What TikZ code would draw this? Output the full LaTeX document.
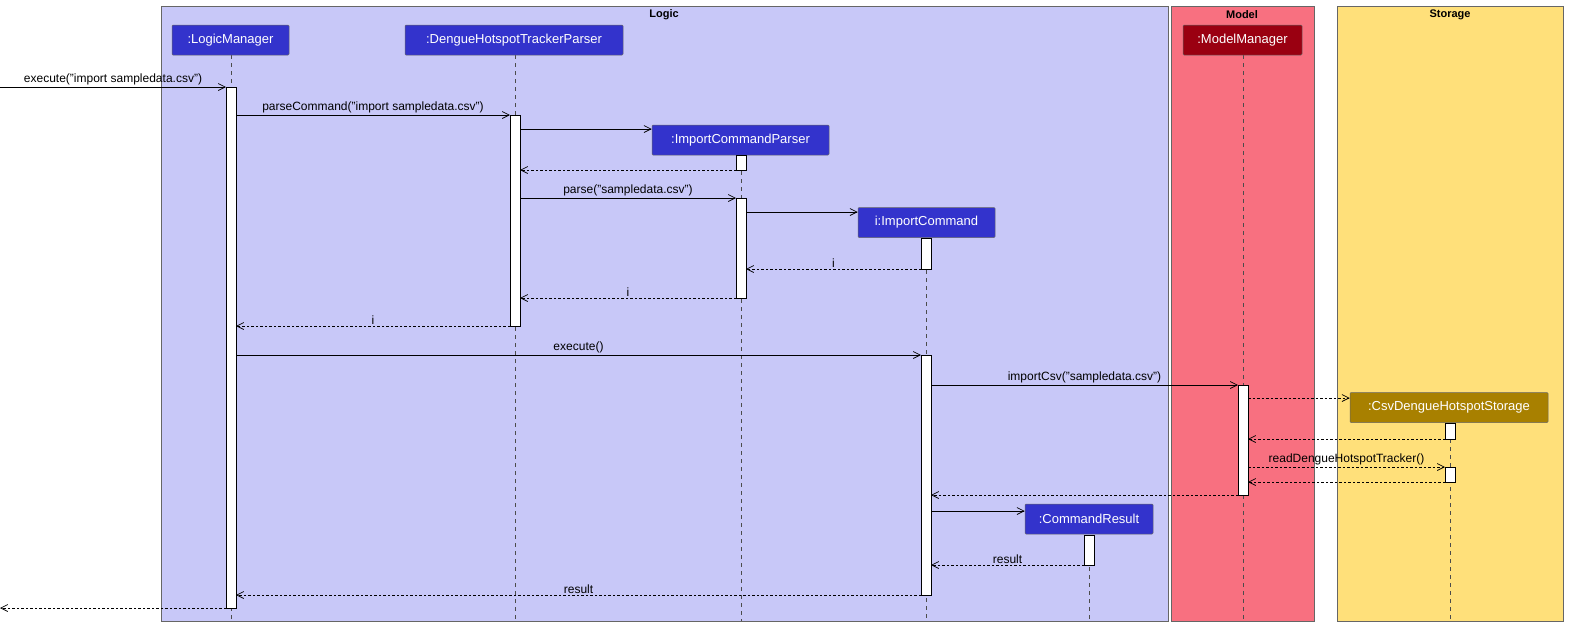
\documentclass[tikz,border=0pt]{standalone}
\usepackage{fontspec}
\setmainfont{Liberation Sans}
\usetikzlibrary{arrows.meta}
\definecolor{logicbg}{HTML}{C8C8F8}
\definecolor{modelbg}{HTML}{F87080}
\definecolor{storebg}{HTML}{FFE07A}
\definecolor{pblue}{HTML}{3333CC}
\definecolor{pred}{HTML}{9A0011}
\definecolor{pgold}{HTML}{A88000}
\begin{document}
\begin{tikzpicture}[x=1pt,y=-1pt,
  frame/.style={draw=gray!80!black,line width=0.6pt},
  ftitle/.style={font=\fontsize{11}{12}\selectfont\bfseries},
  part/.style={draw=black!60,line width=0.5pt,text=white,font=\fontsize{13}{14}\selectfont,inner sep=0pt,minimum height=30pt,rounded corners=1pt},
  life/.style={dash pattern=on 4pt off 4pt,line width=0.5pt,draw=black!70},
  act/.style={draw=black,fill=white,line width=0.6pt},
  msg/.style={-{Straight Barb[length=7pt,width=7pt]},line width=0.7pt},
  ret/.style={msg,dash pattern=on 2.5pt off 2pt},
  lab/.style={font=\fontsize{12}{13}\selectfont,above=0pt,inner sep=1.5pt}]
\useasboundingbox (0,0) rectangle (1590,641);
\fill[white] (0,0) rectangle (1590,641);
% frames
\draw[frame,fill=logicbg] (161,6) rectangle (1168,621);
\draw[frame,fill=modelbg] (1171,6) rectangle (1314,621);
\draw[frame,fill=storebg] (1337,6) rectangle (1563,621);
\node[ftitle] (tl) at (664,15) {Logic};
\node[ftitle] (tm) at (1242,15) {Model};
\node[ftitle] (ts) at (1450,15) {Storage};
% lifelines
\foreach \x/\a/\b in {231/55/621,515/55/621,741/155/621,926/238/621,1089/535/621,1243/55/621,1450/423/621}
  \draw[life] (\x,\a) -- (\x,\b);
% participants
\node[part,fill=pblue,minimum width=117pt] (lm) at (230.5,40) {:LogicManager};
\node[part,fill=pblue,minimum width=218pt] (dp) at (514,40) {:DengueHotspotTrackerParser};
\node[part,fill=pred,minimum width=119pt] (mm) at (1242.5,40) {:ModelManager};
\node[part,fill=pblue,minimum width=177pt] (icp) at (740.5,140) {:ImportCommandParser};
\node[part,fill=pblue,minimum width=137pt] (ic) at (926.5,222.5) {i:ImportCommand};
\node[part,fill=pgold,minimum width=198pt] (cs) at (1449,407.5) {:CsvDengueHotspotStorage};
\node[part,fill=pblue,minimum width=128pt] (cr) at (1089,519) {:CommandResult};
% activations
\draw[act] (226,87) rectangle (236,608);
\draw[act] (510,115) rectangle (520,326);
\draw[act] (736,155) rectangle (746,170);
\draw[act] (736,198) rectangle (746,298);
\draw[act] (921,238) rectangle (931,269);
\draw[act] (921,355) rectangle (931,595);
\draw[act] (1238,385) rectangle (1248,495);
\draw[act] (1445,423) rectangle (1455,439);
\draw[act] (1445,467) rectangle (1455,482);
\draw[act] (1084,535) rectangle (1094,565);
% messages
\coordinate (in) at (0,87); \coordinate (out) at (0,608);
\draw[msg] (in) -- node[lab,pos=0.5] {execute("import sampledata.csv")} (226,87);
\draw[msg] (236,115) -- node[lab] {parseCommand("import sampledata.csv")} (510,115);
\draw[msg] (520,129) -- (icp.west |- 0,129);
\draw[ret] (736,170) -- (520,170);
\draw[msg] (520,198) -- node[lab] {parse("sampledata.csv")} (736,198);
\draw[msg] (746,212) -- (ic.west |- 0,212);
\draw[ret] (921,269) -- node[lab] {i} (746,269);
\draw[ret] (736,298) -- node[lab] {i} (520,298);
\draw[ret] (510,326) -- node[lab] {i} (236,326);
\draw[msg] (236,355) -- node[lab] {execute()} (921,355);
\draw[msg] (931,385) -- node[lab] {importCsv("sampledata.csv")} (1238,385);
\draw[ret] (1248,398) -- (cs.west |- 0,398);
\draw[ret] (1445,439) -- (1248,439);
\draw[ret] (1248,467) -- node[lab] {readDengueHotspotTracker()} (1445,467);
\draw[ret] (1445,482) -- (1248,482);
\draw[ret] (1238,495) -- (931,495);
\draw[msg] (931,511) -- (cr.west |- 0,511);
\draw[ret] (1084,565) -- node[lab] {result} (931,565);
\draw[ret] (921,595) -- node[lab] {result} (236,595);
\draw[ret] (226,608) -- (out);
\end{tikzpicture}
\end{document}
